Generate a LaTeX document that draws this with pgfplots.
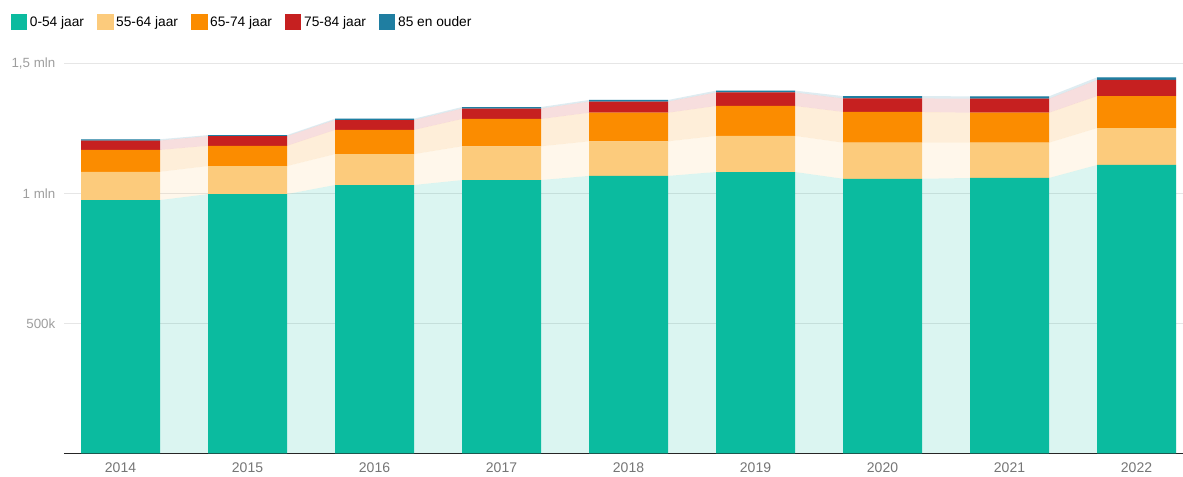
\documentclass[border=0pt]{standalone}
\usepackage{fontspec}
\setmainfont{Liberation Sans}
\usepackage{pgfplots}
\usepackage{pgfplotstable}
\pgfplotsset{compat=1.18}
\definecolor{cA}{HTML}{0BBB9F}
\definecolor{cB}{HTML}{FCCB7C}
\definecolor{cC}{HTML}{FB8C00}
\definecolor{cD}{HTML}{C62020}
\definecolor{cE}{HTML}{1F7EA1}
\definecolor{gridc}{HTML}{E6E6E6}
\definecolor{tickc}{HTML}{757575}
\definecolor{ytickc}{HTML}{9E9E9E}

\pgfplotstableread{
year a b c d e
0 0.974 0.109 0.084 0.036 0.005
1 0.997 0.108 0.078 0.037 0.004
2 1.032 0.119 0.093 0.038 0.005
3 1.051 0.130 0.105 0.040 0.006
4 1.067 0.133 0.110 0.043 0.006
5 1.082 0.139 0.115 0.052 0.007
6 1.056 0.139 0.118 0.052 0.009
7 1.059 0.136 0.115 0.054 0.009
8 1.109 0.142 0.123 0.062 0.010
}\bars

\pgfplotstableread{
x a b c d e
-0.311 0.974 0.109 0.084 0.036 0.005
0.311 0.974 0.109 0.084 0.036 0.005
0.689 0.997 0.108 0.078 0.037 0.004
1.311 0.997 0.108 0.078 0.037 0.004
1.689 1.032 0.119 0.093 0.038 0.005
2.311 1.032 0.119 0.093 0.038 0.005
2.689 1.051 0.130 0.105 0.040 0.006
3.311 1.051 0.130 0.105 0.040 0.006
3.689 1.067 0.133 0.110 0.043 0.006
4.311 1.067 0.133 0.110 0.043 0.006
4.689 1.082 0.139 0.115 0.052 0.007
5.311 1.082 0.139 0.115 0.052 0.007
5.689 1.056 0.139 0.118 0.052 0.009
6.311 1.056 0.139 0.118 0.052 0.009
6.689 1.059 0.136 0.115 0.054 0.009
7.311 1.059 0.136 0.115 0.054 0.009
7.689 1.109 0.142 0.123 0.062 0.010
8.311 1.109 0.142 0.123 0.062 0.010
}\areas

\pgfplotsset{
  common/.style={
    scale only axis, width=839.25pt, height=292.5pt,
    xmin=-0.445, xmax=8.366, ymin=0, ymax=1.5,
    at={(0,0)}, anchor=south west,
    major tick length=0pt,
  },
  sq/.style={legend image code/.code={\fill[##1] (0pt,-6pt) rectangle (12.5pt,6pt);}},
}

\begin{document}
\begin{tikzpicture}
\useasboundingbox (-48pt,-17pt) rectangle (839.25pt,340pt);
% background: grid, y labels, connecting bands
\begin{axis}[common,
  axis line style={draw=none},
  ymajorgrids, grid style={gridc, line width=0.8pt},
  ytick={0.5,1,1.5}, yticklabels={500k,1 mln,{1,5 mln}},
  yticklabel style={text=ytickc, font=\fontsize{10}{12}\selectfont, xshift=-3pt},
  xtick=\empty,
  stack plots=y,
]
\addplot[fill=cA, fill opacity=0.15, draw=none] table[x=x,y=a]{\areas} \closedcycle;
\addplot[fill=cB, fill opacity=0.15, draw=none] table[x=x,y=b]{\areas} \closedcycle;
\addplot[fill=cC, fill opacity=0.15, draw=none] table[x=x,y=c]{\areas} \closedcycle;
\addplot[fill=cD, fill opacity=0.15, draw=none] table[x=x,y=d]{\areas} \closedcycle;
\addplot[fill=cE, fill opacity=0.15, draw=none] table[x=x,y=e]{\areas} \closedcycle;
\end{axis}
% foreground: bars, x axis, legend
\begin{axis}[common,
  ybar stacked, bar width=0.622,
  axis x line*=bottom, axis y line=none,
  x axis line style={-, draw=black!85, line width=1.1pt},
  xtick={0,1,2,3,4,5,6,7,8},
  xticklabels={2014,2015,2016,2017,2018,2019,2020,2021,2022},
  xticklabel style={text=tickc, font=\fontsize{10.5}{12}\selectfont, yshift=-3.5pt},
  ytick=\empty,
  legend columns=-1,
  legend style={at={(rel axis cs:-0.048,1.105)}, anchor=west, draw=none, fill=none,
    inner sep=0pt, font=\fontsize{10.3}{12}\selectfont,
    /tikz/every even column/.append style={column sep=7.6pt}},
]
\addplot[sq, fill=cA, draw=none] table[x=year,y=a]{\bars};
\addplot[sq, fill=cB, draw=none] table[x=year,y=b]{\bars};
\addplot[sq, fill=cC, draw=none] table[x=year,y=c]{\bars};
\addplot[sq, fill=cD, draw=none] table[x=year,y=d]{\bars};
\addplot[sq, fill=cE, draw=none] table[x=year,y=e]{\bars};
\legend{0-54 jaar,55-64 jaar,65-74 jaar,75-84 jaar,85 en ouder}
\end{axis}
\end{tikzpicture}
\end{document}
